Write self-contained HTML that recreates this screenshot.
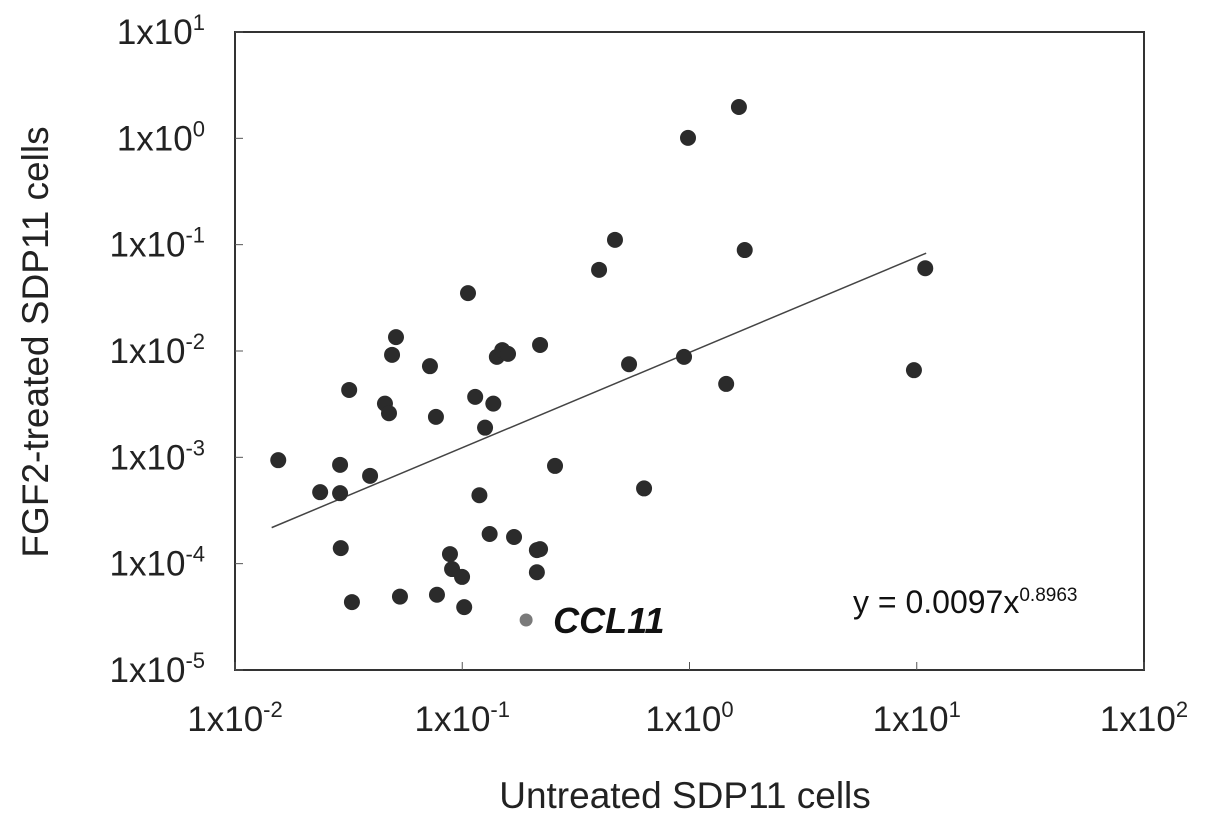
<!DOCTYPE html>
<html><head><meta charset="utf-8"><style>
html,body{margin:0;padding:0;background:#fff;}
svg{display:block;font-family:"Liberation Sans",sans-serif;}
</style></head><body>
<svg id="chart" width="1205" height="824" viewBox="0 0 1205 824">
<rect x="235" y="32" width="909" height="638" fill="none" stroke="#333" stroke-width="2"/>
<g id="tickmarks"></g>
<g id="xticks"></g>
<g id="yticks"></g>
<line id="trend" stroke="#444" stroke-width="1.5"/>
<g id="points"></g>
<text x="853" y="613" font-size="32" fill="#111">y = 0.0097x<tspan font-size="19" dy="-12">0.8963</tspan></text>
<text x="685" y="808" font-size="37" text-anchor="middle" fill="#222">Untreated SDP11 cells</text>
<text transform="translate(48,342) rotate(-90)" font-size="37" text-anchor="middle" fill="#222">FGF2-treated SDP11 cells</text>
</svg>
<script>
const xVals=[0.0155,0.0237,0.029,0.029,0.0292,0.0318,0.0327,0.0393,0.0457,0.0476,0.0491,0.0511,0.0532,0.0721,0.0766,0.0774,0.0883,0.0902,0.0998,0.102,0.106,0.114,0.119,0.126,0.132,0.137,0.142,0.150,0.159,0.169,0.213,0.220,0.213,0.220,0.256,0.400,0.470,0.542,0.631,0.946,0.985,1.45,1.65,1.75,9.72,10.9];
const yVals=[9.4e-4,4.7e-4,8.5e-4,4.6e-4,1.4e-4,4.3e-3,4.35e-5,6.7e-4,3.2e-3,2.6e-3,9.2e-3,1.35e-2,4.9e-5,7.2e-3,2.4e-3,5.1e-5,1.23e-4,8.9e-5,7.5e-5,3.9e-5,3.5e-2,3.7e-3,4.4e-4,1.9e-3,1.9e-4,3.2e-3,8.8e-3,1.02e-2,9.4e-3,1.78e-4,1.34e-4,1.37e-4,8.3e-5,1.14e-2,8.3e-4,5.8e-2,0.111,7.5e-3,5.1e-4,8.8e-3,1.01,4.9e-3,1.97,0.089,6.6e-3,0.060];
const highlightX=[0.191];
const highlightY=[2.95e-5];
const highlightLabel=["CCL11"];
const xTickExp=[-2,-1,0,1,2];
const yTickExp=[1,0,-1,-2,-3,-4,-5];
const trendCoef=0.0097, trendPow=0.8963, trendRange=[0.0145,11];
const NS="http://www.w3.org/2000/svg";
function sx(v){return 235+(Math.log10(v)+2)*227.25;}
function sy(v){return 32+(1-Math.log10(v))*106.33;}
function mk(t,a){const e=document.createElementNS(NS,t);for(const k in a)e.setAttribute(k,a[k]);return e;}
const xg=document.getElementById('xticks'),yg=document.getElementById('yticks'),pg=document.getElementById('points'),tg=document.getElementById('tickmarks');
xTickExp.forEach(p=>{const X=sx(Math.pow(10,p));
const t=mk('text',{x:X,y:731,'font-size':35,'text-anchor':'middle',fill:'#222'});


t.innerHTML='1x10<tspan font-size="22" dy="-14">'+p+'</tspan>';xg.appendChild(t);
const m=mk('line',{x1:X,x2:X,y1:662,y2:670,stroke:'#555','stroke-width':1});


tg.appendChild(m);});
yTickExp.forEach(p=>{const Y=sy(Math.pow(10,p));
const t=mk('text',{x:205,y:Y+12,'font-size':35,'text-anchor':'end',fill:'#222'});


t.innerHTML='1x10<tspan font-size="22" dy="-14">'+p+'</tspan>';yg.appendChild(t);
const m=mk('line',{x1:235,x2:243,y1:Y,y2:Y,stroke:'#555','stroke-width':1});


tg.appendChild(m);});
const tr=document.getElementById('trend');
tr.setAttribute('x1',sx(trendRange[0]));tr.setAttribute('y1',sy(trendCoef*Math.pow(trendRange[0],trendPow)));
tr.setAttribute('x2',sx(trendRange[1]));tr.setAttribute('y2',sy(trendCoef*Math.pow(trendRange[1],trendPow)));
xVals.forEach((x,i)=>{const c=mk('circle',{cx:sx(x),cy:sy(yVals[i]),r:8,fill:'#2b2b2b'});


pg.appendChild(c);});
highlightX.forEach((x,i)=>{const c=mk('circle',{cx:sx(x),cy:sy(highlightY[i]),r:6.5,fill:'#7a7a7a'});


pg.appendChild(c);
const t=mk('text',{x:sx(x)+27,y:sy(highlightY[i])+13,'font-size':36,'font-weight':'bold','font-style':'italic',fill:'#111'});


t.textContent=highlightLabel[i];pg.appendChild(t);});
</script>
</body></html>
